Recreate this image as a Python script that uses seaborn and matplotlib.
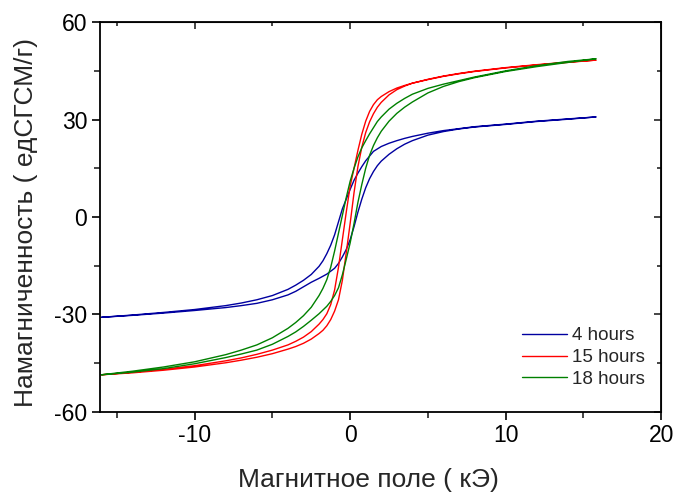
import numpy as np
import pandas as pd
import matplotlib
matplotlib.use('Agg')
import matplotlib.pyplot as plt
from matplotlib.ticker import MultipleLocator
import seaborn as sns

# 4 hours: нисходящая ветвь (от +H к -H) и восходящая ветвь
h_blue_down = [15.8, 14, 12, 10, 8, 7, 6, 5, 4, 3.5, 3, 2.5, 2, 1.5, 1, 0.75, 0.5, 0.25, 0,
               -0.25, -0.5, -0.75, -1, -1.25, -1.5, -1.75, -2, -2.5, -3, -3.5, -4, -5, -6, -7, -8, -10, -12, -14, -16]
m_blue_down = [30.8, 30.2, 29.5, 28.6, 27.8, 27.2, 26.6, 25.8, 24.8, 24.2, 23.5, 22.7, 21.7, 20.2, 17.3, 15.5, 13.5, 11.3, 8.5,
               5.5, 2.5, -1.5, -5.5, -8.7, -11.3, -13.5, -15.2, -17.7, -19.5, -21.0, -22.3, -24.2, -25.5, -26.5, -27.3, -28.5, -29.4, -30.2, -30.9]
h_blue_up = [-16, -14, -12, -10, -8, -7, -6, -5, -4, -3.5, -3, -2.5, -2, -1.5, -1, -0.75, -0.5, -0.25, 0,
             0.25, 0.5, 0.75, 1, 1.25, 1.5, 1.75, 2, 2.5, 3, 3.5, 4, 5, 6, 7, 8, 10, 12, 14, 15.8]
m_blue_up = [-30.9, -30.3, -29.6, -28.8, -27.9, -27.3, -26.6, -25.5, -24.0, -22.9, -21.5, -20.1, -18.9, -17.6, -15.8, -14.3, -12.3, -10.0, -7.0,
             -3.0, 1.5, 5.5, 9.0, 11.8, 14.0, 15.8, 17.2, 19.3, 21.0, 22.4, 23.5, 25.2, 26.3, 27.1, 27.7, 28.5, 29.4, 30.1, 30.8]

# 15 hours
h_red_down = [15.8, 14, 12, 10, 8, 7, 6, 5, 4, 3.5, 3, 2.5, 2, 1.75, 1.5, 1.25, 1, 0.75, 0.5, 0.25, 0,
              -0.25, -0.5, -0.75, -1, -1.25, -1.5, -1.75, -2, -2.5, -3, -3.5, -4, -5, -6, -7, -8, -10, -12, -14, -16]
m_red_down = [48.3, 47.6, 46.8, 45.9, 44.8, 44.1, 43.3, 42.3, 41.2, 40.5, 39.7, 38.6, 37.1, 36.1, 34.6, 32.5, 29.5, 25.5, 20.5, 15.0, 9.5,
              1.5, -7.0, -15.5, -22.5, -27.0, -29.8, -31.6, -33.0, -35.3, -37.0, -38.3, -39.4, -41.0, -42.3, -43.4, -44.3, -45.8, -46.9, -47.8, -48.6]
h_red_up = [-16, -14, -12, -10, -8, -7, -6, -5, -4, -3.5, -3, -2.5, -2, -1.75, -1.5, -1.25, -1, -0.75, -0.5, -0.25, 0,
            0.25, 0.5, 0.75, 1, 1.25, 1.5, 1.75, 2, 2.5, 3, 3.5, 4, 5, 6, 7, 8, 10, 12, 14, 15.8]
m_red_up = [-48.6, -48.0, -47.2, -46.2, -44.9, -44.1, -43.2, -42.1, -40.7, -39.9, -38.9, -37.6, -35.9, -34.9, -33.5, -31.6, -29.0, -25.5, -19.5, -11.0, -2.0,
            7.5, 15.5, 21.5, 26.0, 29.3, 31.8, 33.8, 35.3, 37.6, 39.2, 40.3, 41.2, 42.4, 43.4, 44.2, 44.9, 46.0, 46.9, 47.7, 48.3]

# 18 hours
h_green_down = [15.8, 14, 12, 10, 8, 7, 6, 5, 4, 3.5, 3, 2.5, 2, 1.75, 1.5, 1.25, 1, 0.75, 0.5, 0.25, 0,
                -0.25, -0.5, -0.75, -1, -1.25, -1.5, -1.75, -2, -2.5, -3, -3.5, -4, -5, -6, -7, -8, -10, -12, -14, -16]
m_green_down = [48.7, 47.9, 46.6, 45.0, 43.1, 42.0, 40.9, 39.6, 37.8, 36.5, 35.0, 33.2, 30.8, 29.4, 27.5, 25.6, 23.5, 21.3, 18.5, 15.0, 11.0,
                6.0, 0.5, -5.0, -10.5, -15.5, -19.3, -22.0, -24.2, -27.8, -30.4, -32.5, -34.3, -37.2, -39.4, -41.0, -42.4, -44.6, -46.2, -47.5, -48.6]
h_green_up = [-16, -14, -12, -10, -8, -7, -6, -5, -4, -3.5, -3, -2.5, -2, -1.5, -1.25, -1, -0.75, -0.5, -0.25, 0,
              0.25, 0.5, 0.75, 1, 1.25, 1.5, 1.75, 2, 2.5, 3, 3.5, 4, 5, 6, 7, 8, 10, 12, 14, 15.8]
m_green_up = [-48.6, -47.8, -46.7, -45.2, -43.3, -42.2, -41.0, -39.2, -36.8, -35.4, -33.7, -31.8, -29.8, -27.5, -26.0, -24.2, -21.8, -17.8, -13.0, -8.0,
              -2.0, 4.5, 10.0, 15.0, 19.0, 22.0, 24.4, 26.4, 29.5, 31.9, 33.8, 35.4, 38.2, 40.2, 41.7, 42.9, 44.8, 46.3, 47.6, 48.7]

labels = ['4 hours', '15 hours', '18 hours']
colors = ['#0000a0', '#ff0000', '#008000']

# каждая петля = нисходящая + восходящая ветвь
frames = []
for lab, hd, md, hu, mu in [
    (labels[0], h_blue_down, m_blue_down, h_blue_up, m_blue_up),
    (labels[1], h_red_down, m_red_down, h_red_up, m_red_up),
    (labels[2], h_green_down, m_green_down, h_green_up, m_green_up),
]:
    frames.append(pd.DataFrame({'H': hd + hu, 'M': md + mu, 'series': lab}))
df = pd.concat(frames, ignore_index=True)

sns.set_style('ticks')
plt.rcParams['font.family'] = ['Liberation Sans', 'DejaVu Sans']
plt.rcParams['axes.unicode_minus'] = False

fig = plt.figure(figsize=(6.74, 4.92), dpi=100)
ax = fig.add_axes([0.148, 0.163, 0.833, 0.792])

sns.lineplot(data=df, x='H', y='M', hue='series', sort=False, estimator=None,
             palette=dict(zip(labels, colors)), linewidth=1.0, ax=ax)

ax.set_xlim(-16.1, 20)
ax.set_ylim(-60, 60)
ax.xaxis.set_major_locator(MultipleLocator(10))
ax.xaxis.set_minor_locator(MultipleLocator(5))
ax.yaxis.set_major_locator(MultipleLocator(30))
ax.yaxis.set_minor_locator(MultipleLocator(15))
ax.tick_params(which='major', direction='out', length=6, width=1.2, labelsize=16.5, colors='black', pad=3)
ax.tick_params(which='minor', direction='out', length=4, width=1.2)
for sp in ax.spines.values():
    sp.set_linewidth(1.3)
    sp.set_color('black')

# зеркальные риски сверху и справа (внутрь)
top = ax.secondary_xaxis('top')
top.xaxis.set_major_locator(MultipleLocator(10))
top.xaxis.set_minor_locator(MultipleLocator(5))
top.tick_params(which='both', direction='in', labeltop=False)
top.tick_params(which='major', length=5, width=1.2)
top.tick_params(which='minor', length=3, width=1.2)
right = ax.secondary_yaxis('right')
right.yaxis.set_major_locator(MultipleLocator(30))
right.yaxis.set_minor_locator(MultipleLocator(15))
right.tick_params(which='both', direction='in', labelright=False)
right.tick_params(which='major', length=5, width=1.2)
right.tick_params(which='minor', length=3, width=1.2)

ax.set_xlabel('Магнитное поле ( кЭ)', fontsize=19)
ax.set_ylabel('Намагниченность ( едСГСМ/г)', fontsize=19)
ax.xaxis.set_label_coords(0.478, -0.145)
ax.yaxis.set_label_coords(-0.11, 0.487)

ax.legend(loc='lower right', bbox_to_anchor=(0.985, 0.042), frameon=False, fontsize=13.5,
          handlelength=2.4, handletextpad=0.3, labelspacing=0.25, borderaxespad=0)

fig.savefig('out.png', dpi=100)
